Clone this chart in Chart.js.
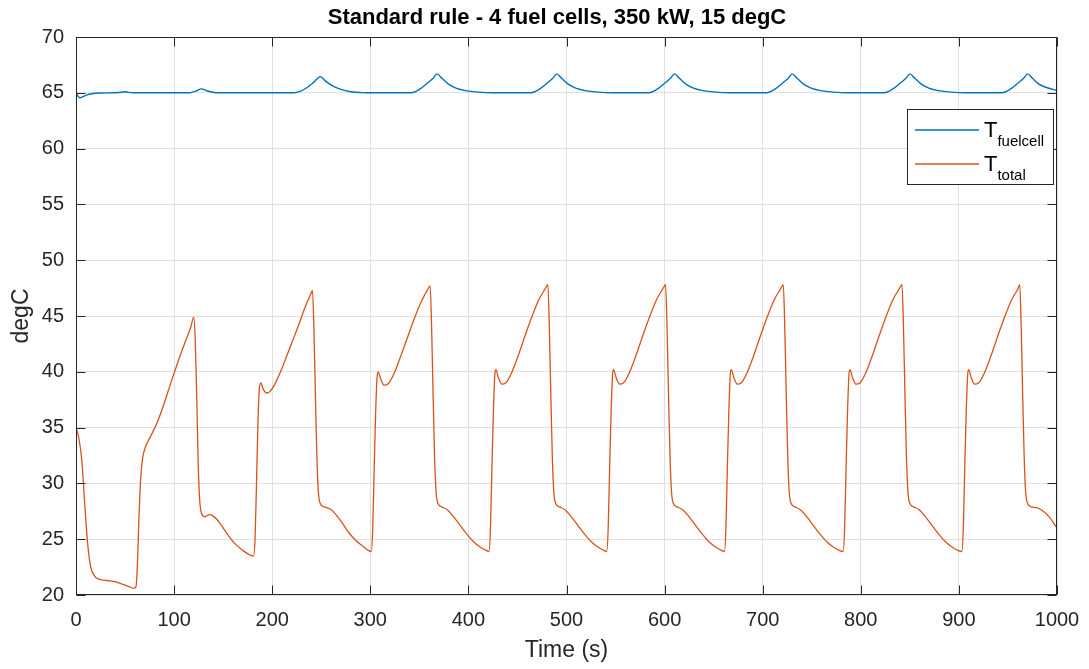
<!DOCTYPE html>
<html>
<head>
<meta charset="utf-8">
<script src="https://cdn.jsdelivr.net/npm/chart.js@4/dist/chart.umd.min.js"></script>
<style>
    body { margin: 0; background: #fff; }
</style>
</head>
<body>
<canvas id="myChart" width="1089" height="669"></canvas>
<script>
// titols i etiquetes
const chartTitle = 'Standard rule - 4 fuel cells, 350 kW, 15 degC';
const xTitle = 'Time (s)';
const yTitle = 'degC';
const seriesNames = ['T', 'T'];
const seriesSubs = ['fuelcell', 'total'];

// T fuelcell (temps en s, temperatura en degC)
const fcTime = [0, 2, 4, 7, 11, 16, 24, 40, 47, 50, 53, 58, 116, 122, 128, 133, 139, 148,
    222, 229, 236, 243, 249, 255, 262, 270, 280, 292, 300,
    342, 350, 358, 364, 368, 373, 380, 388, 397, 410, 425,
    464, 472, 480, 486, 490, 495, 502, 510, 519, 532, 547,
    584, 592, 600, 606, 610, 615, 622, 630, 639, 652, 667,
    704, 712, 720, 726, 730, 735, 742, 750, 759, 772, 787,
    824, 832, 840, 846, 850, 855, 862, 870, 879, 892, 907,
    944, 952, 960, 966, 970, 975, 982, 990, 1000];
const fcTemp = [65.0, 64.7, 64.55, 64.65, 64.82, 64.92, 64.98, 65.0, 65.05, 65.1, 65.05, 65.0, 65.0, 65.15, 65.35, 65.2, 65.05, 65.0,
    65.0, 65.15, 65.5, 66.0, 66.45, 66.0, 65.6, 65.3, 65.1, 65.02, 65.0,
    65.0, 65.3, 65.85, 66.3, 66.7, 66.3, 65.75, 65.4, 65.2, 65.06, 65.0,
    65.0, 65.3, 65.85, 66.3, 66.7, 66.3, 65.75, 65.4, 65.2, 65.06, 65.0,
    65.0, 65.3, 65.85, 66.3, 66.7, 66.3, 65.75, 65.4, 65.2, 65.06, 65.0,
    65.0, 65.3, 65.85, 66.3, 66.7, 66.3, 65.75, 65.4, 65.2, 65.06, 65.0,
    65.0, 65.3, 65.85, 66.3, 66.7, 66.3, 65.75, 65.4, 65.2, 65.06, 65.0,
    65.0, 65.3, 65.85, 66.3, 66.7, 66.3, 65.75, 65.45, 65.2];

// T total
const totTime = [0, 3, 6, 9, 12, 15, 19, 24, 32, 40, 48, 54, 59, 61, 62.5, 64, 66, 68, 71, 76, 83, 90, 97, 104, 111, 117, 120,
    121.5, 123, 124.5, 126, 128, 131, 136, 141, 147, 154, 162, 170, 177, 181,
    182.5, 184, 185.5, 187, 188.5, 191, 195, 200, 206, 213, 220, 227, 234, 239, 241,
    242.5, 244, 245.5, 247, 249, 253, 259, 265, 271, 278, 285, 292, 298, 301,
    302.5, 304, 305.5, 307, 308, 310.5, 314, 318, 324, 331, 338, 345, 352, 358, 361,
    362.5, 364, 365.5, 367, 369, 373, 379, 385, 391, 398, 405, 412, 418, 421,
    422.5, 424, 425.5, 427, 428, 430.5, 434, 438, 444, 451, 458, 465, 472, 478, 481,
    482.5, 484, 485.5, 487, 489, 493, 499, 505, 511, 518, 525, 532, 538, 541,
    542.5, 544, 545.5, 547, 548, 550.5, 554, 558, 564, 571, 578, 585, 592, 598, 601,
    602.5, 604, 605.5, 607, 609, 613, 619, 625, 631, 638, 645, 652, 658, 661,
    662.5, 664, 665.5, 667, 668, 670.5, 674, 678, 684, 691, 698, 705, 712, 718, 721,
    722.5, 724, 725.5, 727, 729, 733, 739, 745, 751, 758, 765, 772, 778, 782,
    783.5, 785, 786.5, 788, 789, 791.5, 795, 799, 805, 812, 819, 826, 833, 839, 842,
    843.5, 845, 846.5, 848, 850, 854, 860, 866, 872, 879, 886, 893, 899, 903,
    904.5, 906, 907.5, 909, 910, 912.5, 916, 920, 926, 933, 940, 947, 954, 960, 962,
    963.5, 965, 966.5, 968, 970, 974, 980, 986, 992, 1000];
const totTemp = [35.0, 34.0, 32.0, 28.0, 24.5, 22.5, 21.7, 21.4, 21.3, 21.2, 20.95, 20.75, 20.6, 20.7, 22.5, 26.5, 30.5, 32.3, 33.3, 34.2, 35.5, 37.2, 39.1, 40.9, 42.6, 44.0, 44.9,
    43.0, 38.0, 32.0, 28.6, 27.3, 27.0, 27.2, 27.0, 26.4, 25.5, 24.6, 24.0, 23.6, 23.5,
    25.0, 30.0, 35.5, 38.6, 39.0, 38.4, 38.1, 38.5, 39.5, 41.0, 42.6, 44.2, 45.9, 46.9, 47.3,
    44.0, 38.0, 32.5, 29.3, 28.2, 27.9, 27.7, 27.2, 26.5, 25.6, 24.9, 24.4, 24.0, 23.9,
    26.0, 31.5, 36.5, 39.6, 40.0, 39.4, 38.8, 38.9, 39.8, 41.4, 43.1, 44.8, 46.3, 47.3, 47.7,
    44.0, 38.0, 32.5, 29.3, 28.2, 27.9, 27.6, 27.0, 26.3, 25.5, 24.8, 24.3, 24.0, 23.9,
    26.0, 31.5, 36.5, 39.8, 40.2, 39.5, 38.9, 39.0, 39.9, 41.5, 43.3, 45.0, 46.5, 47.4, 47.8,
    44.0, 38.0, 32.5, 29.3, 28.2, 27.9, 27.6, 27.0, 26.3, 25.5, 24.8, 24.3, 24.0, 23.9,
    26.0, 31.5, 36.5, 39.8, 40.2, 39.5, 38.9, 39.0, 39.9, 41.5, 43.3, 45.0, 46.5, 47.4, 47.8,
    44.0, 38.0, 32.5, 29.3, 28.2, 27.9, 27.6, 27.0, 26.3, 25.5, 24.8, 24.3, 24.0, 23.9,
    26.0, 31.5, 36.5, 39.8, 40.2, 39.5, 38.9, 39.0, 39.9, 41.5, 43.3, 45.0, 46.5, 47.4, 47.8,
    44.0, 38.0, 32.5, 29.3, 28.2, 27.9, 27.6, 27.0, 26.3, 25.5, 24.8, 24.3, 24.0, 23.9,
    26.0, 31.5, 36.5, 39.8, 40.2, 39.5, 38.9, 39.0, 39.9, 41.5, 43.3, 45.0, 46.5, 47.4, 47.8,
    44.0, 38.0, 32.5, 29.3, 28.2, 27.9, 27.6, 27.0, 26.3, 25.5, 24.8, 24.3, 24.0, 23.9,
    26.0, 31.5, 36.5, 39.8, 40.2, 39.5, 38.9, 39.0, 39.9, 41.5, 43.3, 45.0, 46.5, 47.4, 47.8,
    44.0, 38.0, 32.5, 29.3, 28.2, 27.9, 27.8, 27.5, 27.0, 26.0];

const fontFamily = '"Liberation Sans", Arial, Helvetica, sans-serif';
const axisColor = '#262626';

// ajuntem temps i valors en punts x/y
const toPoints = (xs, ys) => xs.map((x, i) => ({ x: x, y: ys[i] }));

// caixa, marques interiors, titol i llegenda a l'estil MATLAB
const matlabFrame = {
    id: 'matlabFrame',
    afterDraw(chart) {
        const ctx = chart.ctx;
        const area = chart.chartArea;
        const xs = chart.scales.x;
        const ys = chart.scales.y;
        const l = Math.round(area.left) + 0.5;
        const r = Math.round(area.right) - 0.5;
        const t = Math.round(area.top) + 0.5;
        const b = Math.round(area.bottom) - 0.5;
        const tick = 9;

        ctx.save();
        ctx.strokeStyle = axisColor;
        ctx.lineWidth = 1;
        ctx.strokeRect(l, t, r - l, b - t);

        ctx.beginPath();
        xs.ticks.forEach((tk) => {
            const px = Math.round(xs.getPixelForValue(tk.value)) + 0.5;
            ctx.moveTo(px, b); ctx.lineTo(px, b - tick);
            ctx.moveTo(px, t); ctx.lineTo(px, t + tick);
        });
        ys.ticks.forEach((tk) => {
            const py = Math.round(ys.getPixelForValue(tk.value)) + 0.5;
            ctx.moveTo(l, py); ctx.lineTo(l + tick, py);
            ctx.moveTo(r, py); ctx.lineTo(r - tick, py);
        });
        ctx.stroke();

        // titol
        ctx.fillStyle = '#000';
        ctx.font = 'bold 22px ' + fontFamily;
        ctx.textAlign = 'center';
        ctx.textBaseline = 'middle';
        ctx.fillText(chartTitle, 557, 18);

        // llegenda amb subindexs
        const boxX = 907.5, boxY = 109.5, boxW = 146, boxH = 75;
        ctx.fillStyle = '#fff';
        ctx.fillRect(boxX, boxY, boxW, boxH);
        ctx.strokeStyle = axisColor;
        ctx.strokeRect(boxX, boxY, boxW, boxH);
        chart.data.datasets.forEach((ds, i) => {
            const ly = 130 + i * 34;
            ctx.strokeStyle = ds.borderColor;
            ctx.lineWidth = 1.5;
            ctx.beginPath();
            ctx.moveTo(915, ly);
            ctx.lineTo(979, ly);
            ctx.stroke();
            ctx.fillStyle = '#000';
            ctx.textAlign = 'left';
            ctx.textBaseline = 'alphabetic';
            ctx.font = '22px ' + fontFamily;
            ctx.fillText(seriesNames[i], 984, ly + 7);
            const w = ctx.measureText(seriesNames[i]).width;
            ctx.font = '15px ' + fontFamily;
            ctx.fillText(seriesSubs[i], 984 + w, ly + 16);
        });
        ctx.restore();
    }
};

const ctx = document.getElementById('myChart').getContext('2d');
const chart = new Chart(ctx, {
    type: 'line',
    data: {
        datasets: [{
            label: 'T fuelcell',
            data: toPoints(fcTime, fcTemp),
            borderColor: '#0072BD',
            borderWidth: 1.4,
            pointRadius: 0,
            cubicInterpolationMode: 'monotone',
            fill: false
        }, {
            label: 'T total',
            data: toPoints(totTime, totTemp),
            borderColor: '#D95319',
            borderWidth: 1.3,
            pointRadius: 0,
            cubicInterpolationMode: 'monotone',
            fill: false
        }]
    },
    options: {
        responsive: false,
        animation: false,
        devicePixelRatio: 1,
        layout: { padding: { top: 37, right: 32, left: 0, bottom: 0 } },
        plugins: {
            legend: { display: false },
            title: { display: false },
            tooltip: { enabled: false }
        },
        scales: {
            x: {
                type: 'linear',
                min: 0,
                max: 1000,
                ticks: {
                    stepSize: 100, color: axisColor, padding: 13, maxRotation: 0,
                    font: { size: 20, family: fontFamily },
                    callback: (value) => String(value)
                },
                grid: { color: '#e0e0e0', drawTicks: false },
                border: { display: false },
                title: { display: true, text: xTitle, color: axisColor, padding: { top: 0, bottom: 5 }, font: { size: 23, family: fontFamily } },
                afterFit: (scale) => {
                    scale.height = 74;
                    // sense marge extra per a l'etiqueta 1000
                    scale.paddingLeft = 0;
                    scale.paddingRight = 0;
                }
            },
            y: {
                min: 20,
                max: 70,
                ticks: { stepSize: 5, color: axisColor, padding: 12, font: { size: 20, family: fontFamily } },
                grid: { color: '#e0e0e0', drawTicks: false },
                border: { display: false },
                title: { display: true, text: yTitle, color: axisColor, padding: { top: 8, bottom: 0 }, font: { size: 23, family: fontFamily } },
                afterFit: (scale) => {
                    scale.width = 76;
                    scale.paddingTop = 0;
                    scale.paddingBottom = 0;
                }
            }
        }
    },
    plugins: [matlabFrame]
});
</script>
</body>
</html>
